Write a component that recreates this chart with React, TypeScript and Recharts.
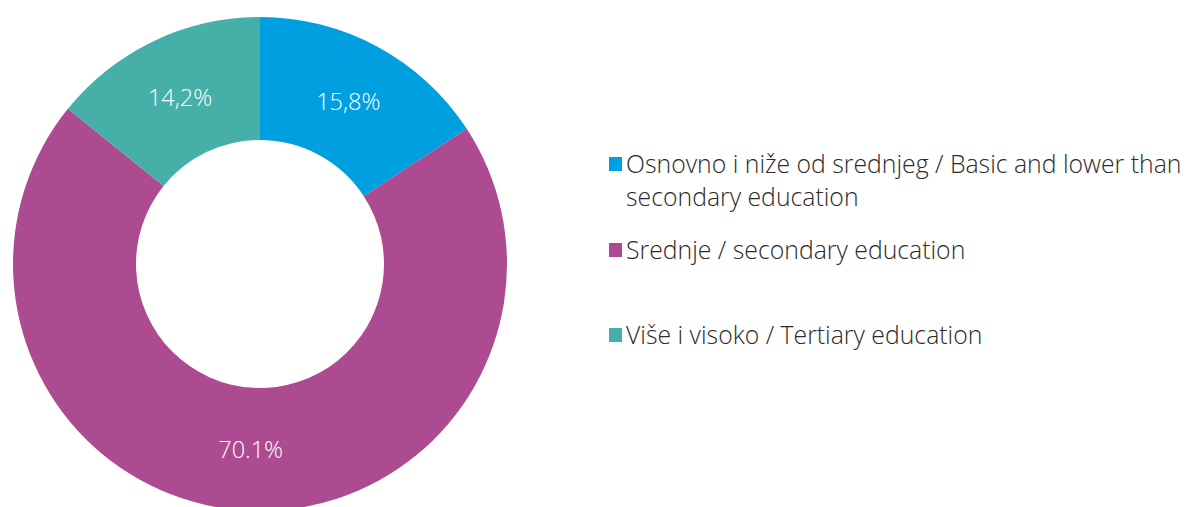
import React from "react";
import { PieChart, Pie, Cell, Legend } from "recharts";

const categories = [
  "Osnovno i niže od srednjeg / Basic and lower than\nsecondary education",
  "Srednje / secondary education",
  "Više i visoko / Tertiary education",
];
const shares = [15.8, 70.1, 14.2];
const valueLabels = ["15,8%", "70.1%", "14,2%"];
const colors = ["#009FE0", "#AD4B90", "#45AFA8"];

const data = categories.map((name, i) => ({ name, value: shares[i], label: valueLabels[i] }));

const RAD = Math.PI / 180;
const FONT = "'Open Sans', 'Noto Sans', sans-serif";

const renderLabel = (props: any) => {
  const { cx, cy, midAngle, innerRadius, outerRadius, index } = props;
  const r = (innerRadius + outerRadius) / 2;
  const x = cx + r * Math.cos(-midAngle * RAD);
  const y = cy + r * Math.sin(-midAngle * RAD);
  return (
    <text
      x={x}
      y={y}
      fill="#fff"
      textAnchor="middle"
      dominantBaseline="central"
      fontSize={23.5}
      fontFamily={FONT}
      fontWeight={300}
    >
      {data[index].label}
    </text>
  );
};

const entryGaps = [0, 20, 52];

const renderLegend = (props: any) => {
  const { payload } = props;
  return (
    <div style={{ fontFamily: FONT, color: "#2b2b2b", fontSize: 24.8, fontWeight: 300 }}>
      {payload.map((p: any, i: number) => (
        <div
          key={i}
          style={{ display: "flex", alignItems: "flex-start", marginTop: entryGaps[i], lineHeight: "33px" }}
        >
          <span
            style={{
              display: "inline-block",
              width: 13,
              height: 14,
              background: p.color,
              marginTop: 10,
              marginRight: 4,
              flex: "0 0 auto",
            }}
          />
          <span style={{ whiteSpace: "pre-line" }}>{p.value}</span>
        </div>
      ))}
    </div>
  );
};

export default function App() {
  return (
    <div style={{ position: "absolute", left: 0, top: 0, background: "#fff" }}>
      <PieChart width={1186} height={507} margin={{ top: 0, right: 0, bottom: 0, left: 0 }}>
        <Pie
          data={data}
          dataKey="value"
          nameKey="name"
          cx={260}
          cy={264}
          outerRadius={247}
          innerRadius={124}
          startAngle={90}
          endAngle={-270}
          stroke="none"
          label={renderLabel}
          labelLine={false}
          isAnimationActive={false}
        >
          {data.map((d, i) => (
            <Cell key={i} fill={colors[i]} />
          ))}
        </Pie>
        <Legend
          layout="vertical"
          align="right"
          verticalAlign="top"
          content={renderLegend}
          wrapperStyle={{ left: 609, top: 147, right: "auto", width: 580 }}
        />
      </PieChart>
    </div>
  );
}
